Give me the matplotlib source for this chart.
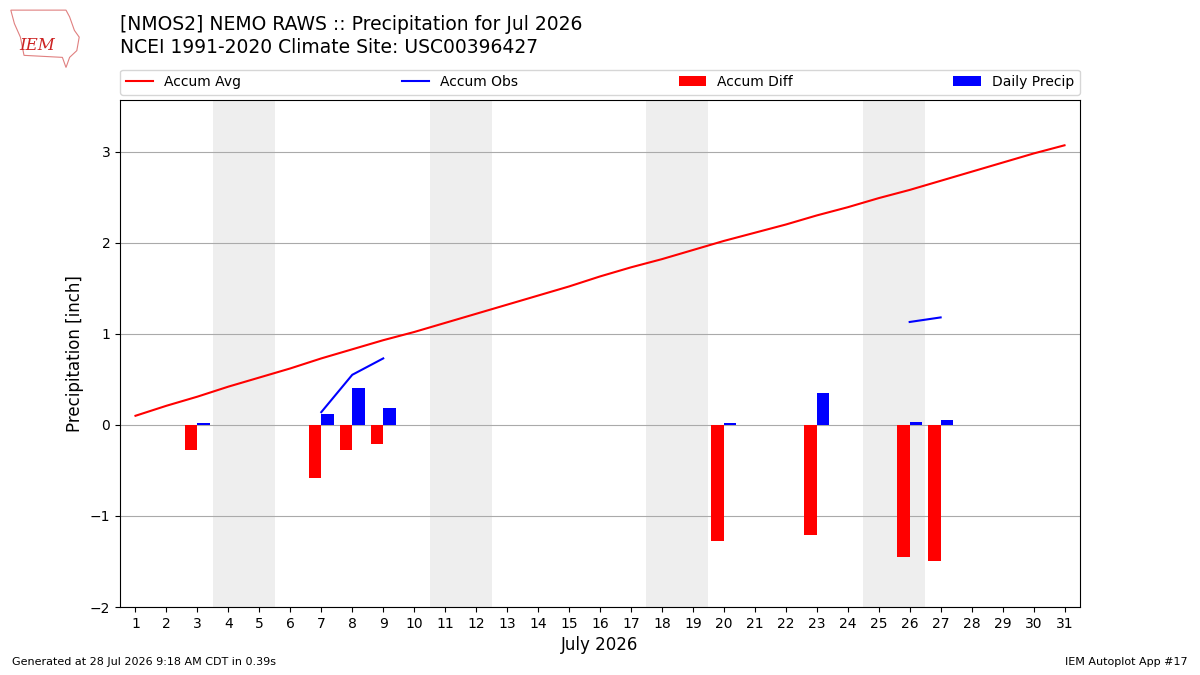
import numpy as np
import matplotlib.pyplot as plt
from matplotlib.patches import Polygon

# 日期 (7月)
days = np.arange(1, 32)

# 气候平均累计降水
accum_avg = [0.10, 0.21, 0.31, 0.42, 0.52, 0.62, 0.73, 0.83, 0.93, 1.02,
             1.12, 1.22, 1.32, 1.42, 1.52, 1.63, 1.73, 1.82, 1.92, 2.02,
             2.11, 2.20, 2.30, 2.39, 2.49, 2.58, 2.68, 2.78, 2.88, 2.98, 3.07]

# 观测累计 (只有部分日期有线段)
obs_days = [7, 8, 9, None, 26, 27]
accum_obs = [0.14, 0.55, 0.73, None, 1.13, 1.18]

# 有降水的日期
precip_days = [3, 7, 8, 9, 20, 23, 26, 27]
daily_precip = [0.02, 0.12, 0.41, 0.19, 0.02, 0.35, 0.03, 0.05]
accum_diff = [-0.28, -0.58, -0.28, -0.21, -1.27, -1.21, -1.45, -1.50]

# 周末区间
weekends = [(3.5, 5.5), (10.5, 12.5), (17.5, 19.5), (24.5, 26.5)]

fig = plt.figure(figsize=(12, 6.75), dpi=100)
ax = fig.add_axes([0.1, 0.1007, 0.8, 0.7515])

for a, b in weekends:
    ax.axvspan(a, b, color='#EEEEEE', zorder=0, lw=0)

ax.plot(days, accum_avg, color='r', lw=1.5, label='Accum Avg', zorder=3)

ox = [np.nan if d is None else d for d in obs_days]
oy = [np.nan if v is None else v for v in accum_obs]
ax.plot(ox, oy, color='b', lw=1.5, label='Accum Obs', zorder=3)

ax.bar(np.array(precip_days) - 0.4, accum_diff, width=0.4, align='edge',
       color='r', label='Accum Diff', zorder=2)
ax.bar(np.array(precip_days), daily_precip, width=0.4, align='edge',
       color='b', label='Daily Precip', zorder=2)

ax.set_xlim(0.5, 31.5)
ax.set_ylim(-2, 3.57)
ax.set_xticks(days)
ax.set_yticks([-2, -1, 0, 1, 2, 3])
ax.grid(True, axis='y', color='#aaaaaa', lw=0.8, zorder=1)
ax.set_axisbelow(True)
ax.tick_params(labelsize=10)
ax.set_xlabel('July 2026', fontsize=12)
ax.set_ylabel('Precipitation [inch]', fontsize=12)

ax.legend(loc='lower left', bbox_to_anchor=(0, 1.01, 1, 0.05), ncol=4,
          mode='expand', borderaxespad=0, fontsize=10)

fig.text(0.1, 0.963, '[NMOS2] NEMO RAWS :: Precipitation for Jul 2026', fontsize=13.5,
         va='center')
fig.text(0.1, 0.929, 'NCEI 1991-2020 Climate Site: USC00396427', fontsize=13.5,
         va='center')

# 简单的 IEM 标志 (粗略的州轮廓)
outline = [(0.009, 0.985), (0.055, 0.985), (0.058, 0.975), (0.062, 0.955),
           (0.066, 0.945), (0.064, 0.925), (0.058, 0.915), (0.055, 0.900),
           (0.052, 0.915), (0.020, 0.918), (0.017, 0.945), (0.012, 0.965)]
fig.patches.append(Polygon(outline, closed=True, fill=False, ec='#e08080',
                           lw=0.8, transform=fig.transFigure, figure=fig))
fig.text(0.031, 0.933, 'IEM', fontsize=12, color='#cc2222', style='italic',
         family='serif', va='center', ha='center')

fig.text(0.01, 0.015, 'Generated at 28 Jul 2026 9:18 AM CDT in 0.39s', fontsize=8)
fig.text(0.99, 0.015, 'IEM Autoplot App #17', fontsize=8, ha='right')

fig.savefig('out.png', dpi=100)
